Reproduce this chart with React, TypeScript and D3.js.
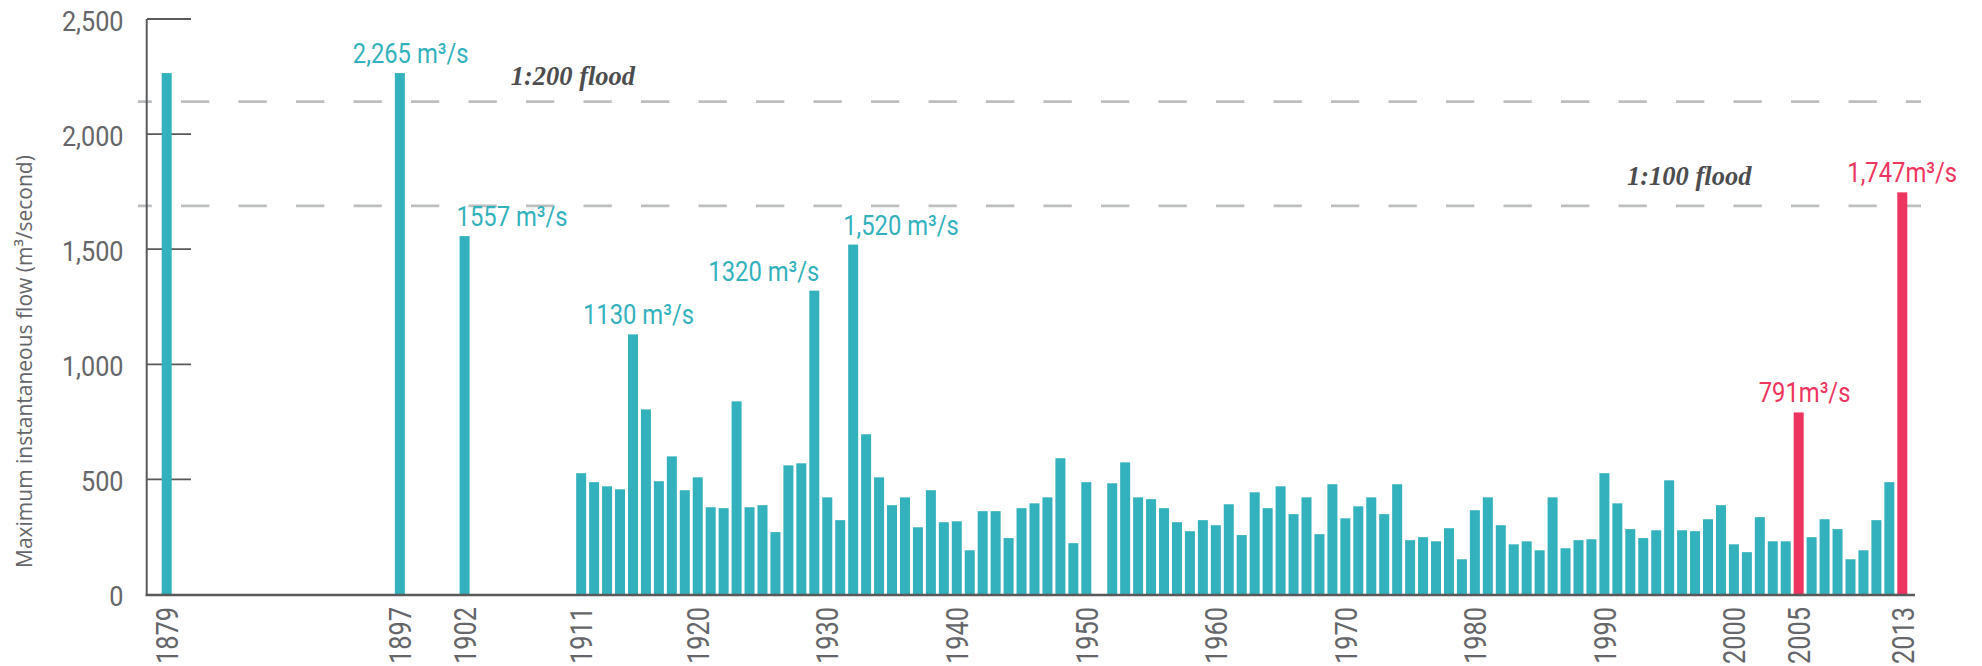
import React from "react";
import * as d3 from "d3";

// ---- data ----
const years: number[] = [
  1879, 1897, 1902,
  1911, 1912, 1913, 1914, 1915, 1916, 1917, 1918, 1919, 1920,
  1921, 1922, 1923, 1924, 1925, 1926, 1927, 1928, 1929, 1930,
  1931, 1932, 1933, 1934, 1935, 1936, 1937, 1938, 1939, 1940,
  1941, 1942, 1943, 1944, 1945, 1946, 1947, 1948, 1949, 1950,
  1952, 1953, 1954, 1955, 1956, 1957, 1958, 1959, 1960,
  1961, 1962, 1963, 1964, 1965, 1966, 1967, 1968, 1969, 1970,
  1971, 1972, 1973, 1974, 1975, 1976, 1977, 1978, 1979, 1980,
  1981, 1982, 1983, 1984, 1985, 1986, 1987, 1988, 1989, 1990,
  1991, 1992, 1993, 1994, 1995, 1996, 1997, 1998, 1999, 2000,
  2001, 2002, 2003, 2004, 2005, 2006, 2007, 2008, 2009, 2010,
  2011, 2012, 2013,
];
const flows: number[] = [
  2265, 2265, 1557,
  527, 488, 470, 457, 1130, 804, 492, 600, 453, 509,
  379, 375, 839, 379, 388, 271, 561, 570, 1320, 422,
  323, 1520, 696, 509, 388, 422, 292, 453, 314, 318,
  192, 362, 362, 245, 375, 396, 422, 592, 223, 488,
  483, 574, 422, 414, 375, 314, 275, 323, 301,
  392, 258, 444, 375, 470, 349, 422, 262, 479, 331,
  383, 422, 349, 479, 236, 249, 231, 288, 153, 366,
  422, 301, 218, 231, 192, 422, 201, 236, 240, 527,
  396, 284, 245, 279, 496, 279, 275, 327, 388, 218,
  184, 336, 231, 231, 791, 249, 327, 284, 153, 192,
  323, 488, 1747,
];
const highlightYears: number[] = [2005, 2013];

const xTickYears: number[] = [1879, 1897, 1902, 1911, 1920, 1930, 1940, 1950, 1960, 1970, 1980, 1990, 2000, 2005, 2013];
const yTickValues: number[] = [0, 500, 1000, 1500, 2000, 2500];

const annotationYears: number[] = [1897, 1902, 1915, 1929, 1932, 2005, 2013];
const annotationTexts: string[] = [
  "2,265 m³/s", "1557 m³/s", "1130 m³/s", "1320 m³/s", "1,520 m³/s", "791m³/s", "1,747m³/s",
];

const floodLabels: string[] = ["1:200 flood", "1:100 flood"];
const floodValues: number[] = [2141, 1688];

const yAxisTitle = "Maximum instantaneous flow (m³/second)";

// ---- layout / styles ----
const W = 1982;
const H = 666;
const TEAL = "#33b1bd";
const RED = "#ee3560";
const AXIS = "#58595b";
const TICK_TEXT = "#656669";
const COND = "Roboto, 'Liberation Sans', sans-serif";

const annotationDx: number[] = [-47, -8, -50, -106, -10, -40, -55];
const floodLabelX: number[] = [510.7, 1627];
const floodLabelDy: number[] = [-17, -20.5];

export default function App() {
  const x = d3.scaleLinear().domain([1879, 2013]).range([166.7, 1902.3]);
  const y = d3.scaleLinear().domain([0, 2500]).range([594.5, 19]);
  const barW = 10;
  const fmt = d3.format(",");

  return (
    <svg
      width={W}
      height={H}
      style={{ position: "absolute", left: 0, top: 0, overflow: "hidden", background: "#fff" }}
    >
      {/* flood lines */}
      {floodValues.map((v, i) => (
        <line
          key={"fl" + i}
          x1={138}
          x2={1921}
          y1={y(v)}
          y2={y(v)}
          stroke="#bcbec0"
          strokeWidth={2.6}
          strokeDasharray="28.3 29.2"
          strokeDashoffset={14.5}
        />
      ))}

      {/* y ticks */}
      {yTickValues.filter((v) => v > 0).map((v) => (
        <line key={"yt" + v} x1={147} x2={191} y1={y(v)} y2={y(v)} stroke={AXIS} strokeWidth={1.8} />
      ))}

      {/* bars */}
      {years.map((yr, i) => (
        <rect
          key={"b" + yr}
          x={x(yr) - barW / 2}
          y={y(flows[i])}
          width={barW}
          height={y(0) - y(flows[i])}
          fill={highlightYears.includes(yr) ? RED : TEAL}
        />
      ))}

      {/* axes */}
      <line x1={146.7} x2={146.7} y1={y(2500)} y2={596} stroke={AXIS} strokeWidth={2} />
      <line x1={145.7} x2={1915} y1={595} y2={595} stroke={AXIS} strokeWidth={2.5} />

      {/* y tick labels */}
      {yTickValues.map((v) => (
        <text
          key={"yl" + v}
          transform={`translate(123.5,${y(v) + 11.5}) scale(0.9,1)`}
          textAnchor="end"
          fontFamily={COND}
          fontSize={28}
          fill={TICK_TEXT}
        >
          {fmt(v)}
        </text>
      ))}

      {/* x tick labels */}
      {xTickYears.map((yr) => (
        <text
          key={"xl" + yr}
          transform={`translate(${x(yr) + 11.2},607) rotate(-90) scale(0.82,1)`}
          textAnchor="end"
          fontFamily={COND}
          fontSize={31}
          fill={TICK_TEXT}
        >
          {yr}
        </text>
      ))}

      {/* y axis title */}
      <text
        transform="translate(31.5,568) rotate(-90)"
        textAnchor="start"
        fontFamily="'Open Sans', sans-serif"
        fontSize={21}
        fill={TICK_TEXT}
      >
        {yAxisTitle}
      </text>

      {/* flood labels */}
      {floodLabels.map((t, i) => (
        <text
          key={"flt" + i}
          x={floodLabelX[i]}
          y={y(floodValues[i]) + floodLabelDy[i]}
          fontFamily="'Liberation Serif', 'DejaVu Serif', serif"
          fontStyle="italic"
          fontWeight="bold"
          fontSize={26.5}
          fill="#4d4d4f"
        >
          {t}
        </text>
      ))}

      {/* annotations */}
      {annotationYears.map((yr, i) => {
        const idx = years.indexOf(yr);
        return (
          <text
            key={"an" + yr}
            transform={`translate(${x(yr) + annotationDx[i]},${y(flows[idx]) - 10}) scale(0.85,1)`}
            fontFamily={COND}
            fontSize={28}
            fill={highlightYears.includes(yr) ? RED : TEAL}
          >
            {annotationTexts[i]}
          </text>
        );
      })}
    </svg>
  );
}
